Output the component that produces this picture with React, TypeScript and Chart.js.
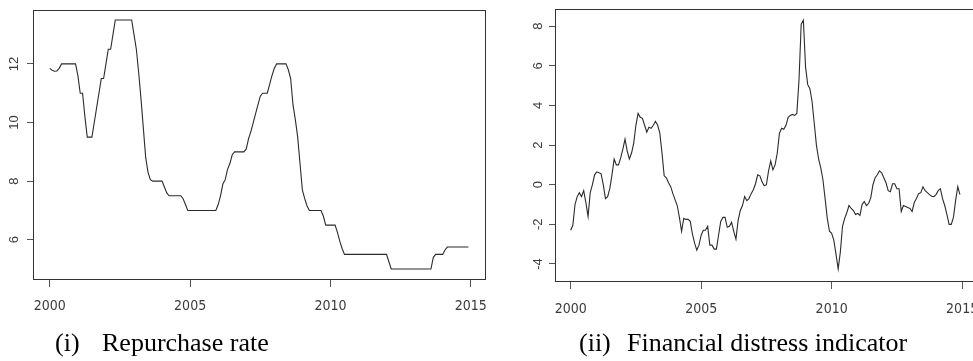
import React, { useEffect, useRef } from "react";
import { Chart, registerables } from "chart.js";

Chart.register(...registerables);

// ---- data (monthly, Jan 2000 .. Dec 2014) ----
const START_YEAR = 2000;

const repoRate: number[] = [
  11.85, 11.78, 11.75, 11.76, 11.85, 12, 12, 12, 12, 12, 12, 12,
  11.6, 11.0, 11.0, 10.2, 9.5, 9.5, 9.5, 10.0, 10.5, 11.0, 11.5, 11.5,
  12.0, 12.5, 12.5, 13.0, 13.5, 13.5, 13.5, 13.5, 13.5, 13.5, 13.5, 13.5,
  13.0, 12.5, 11.7, 10.8, 9.8, 8.8, 8.3, 8.05, 8.0, 8.0, 8.0, 8.0,
  8.0, 7.8, 7.6, 7.5, 7.5, 7.5, 7.5, 7.5, 7.5, 7.4, 7.2, 7.0,
  7, 7, 7, 7, 7, 7, 7, 7, 7, 7, 7, 7,
  7.2, 7.5, 7.9, 8.05, 8.4, 8.6, 8.9, 9.0, 9.0, 9.0, 9.0, 9.0,
  9.1, 9.45, 9.7, 10.0, 10.3, 10.6, 10.9, 11.0, 11.0, 11.0, 11.3, 11.6,
  11.85, 12, 12, 12, 12, 12, 11.8, 11.5, 10.6, 10.1, 9.5, 8.6,
  7.7, 7.4, 7.15, 7.0, 7.0, 7.0, 7.0, 7.0, 7.0, 6.8, 6.5, 6.5,
  6.5, 6.5, 6.5, 6.25, 5.95, 5.7, 5.5, 5.5, 5.5, 5.5, 5.5, 5.5,
  5.5, 5.5, 5.5, 5.5, 5.5, 5.5, 5.5, 5.5, 5.5, 5.5, 5.5, 5.5,
  5.5, 5.25, 5.0, 5.0, 5.0, 5.0, 5.0, 5.0, 5.0, 5.0, 5.0, 5.0,
  5.0, 5.0, 5.0, 5.0, 5.0, 5.0, 5.0, 5.0, 5.4, 5.5, 5.5, 5.5,
  5.5, 5.65, 5.75, 5.75, 5.75, 5.75, 5.75, 5.75, 5.75, 5.75, 5.75, 5.75,
];

const distress: number[] = [
  -2.3, -2.05, -1.0, -0.6, -0.4, -0.6, -0.3, -0.9, -1.6, -0.4, 0.0, 0.5,
  0.65, 0.6, 0.55, 0.0, -0.7, -0.6, -0.2, 0.5, 1.3, 1.0, 1.0, 1.35,
  1.8, 2.3, 1.7, 1.3, 1.6, 2.1, 3.0, 3.6, 3.4, 3.35, 3.0, 2.65,
  2.9, 2.85, 3.0, 3.2, 3.0, 2.6, 1.6, 0.45, 0.35, 0.1, -0.1, -0.45,
  -0.75, -1.05, -1.65, -2.35, -1.7, -1.75, -1.75, -1.85, -2.5, -2.95, -3.3, -3.05,
  -2.55, -2.3, -2.3, -2.1, -3.05, -3.05, -3.25, -3.25, -2.55, -1.85, -1.65, -1.65,
  -2.15, -2.1, -1.9, -2.35, -2.75, -1.8, -1.3, -1.05, -0.6, -0.8, -0.7, -0.45,
  -0.25, 0.05, 0.5, 0.45, 0.15, -0.05, 0.0, 0.7, 1.2, 0.75, 1.0, 1.6,
  2.6, 2.85, 2.8, 3.0, 3.4, 3.5, 3.55, 3.5, 3.6, 5.3, 8.1, 8.3,
  5.95, 5.05, 4.85, 4.2, 3.1, 2.0, 1.3, 0.85, 0.25, -0.7, -1.7, -2.35,
  -2.45, -2.8, -3.5, -4.25, -3.4, -2.1, -1.7, -1.4, -1.05, -1.2, -1.3, -1.5,
  -1.45, -1.55, -1.0, -0.85, -1.05, -0.95, -0.65, 0.0, 0.35, 0.5, 0.7, 0.6,
  0.35, 0.1, -0.3, -0.35, 0.05, 0.05, -0.2, -0.2, -1.35, -1.05, -1.1, -1.15,
  -1.2, -1.35, -0.9, -0.7, -0.45, -0.4, -0.1, -0.3, -0.4, -0.5, -0.58, -0.6,
  -0.5, -0.3, -0.2, -0.7, -1.05, -1.5, -2.0, -2.0, -1.65, -0.8, -0.1, -0.5,
];

const xTicks = [2000, 2005, 2010, 2015];
const repoTicks = [6, 8, 10, 12];
const distressTicks = [-4, -2, 0, 2, 4, 6, 8];
const xRange = [1999.4, 2015.52];
const repoRange = [4.66, 13.84];
const distressRange = [-4.86, 8.87];

const captionLeft = ["(i)", "Repurchase rate"];
const captionRight = ["(ii)", "Financial distress indicator"];

const boxPlugin = {
  id: "rbox",
  afterDatasetsDraw(chart: any) {
    const { ctx, chartArea: a } = chart;
    ctx.save();
    ctx.strokeStyle = "#333";
    ctx.lineWidth = 1;
    ctx.strokeRect(
      Math.round(a.left) + 0.5,
      Math.round(a.top) + 0.5,
      Math.round(a.right - a.left),
      Math.round(a.bottom - a.top)
    );
    ctx.restore();
  },
};

type PanelProps = {
  values: number[];
  yTicks: number[];
  yRange: number[];
  left: number;
  width: number;
  height: number;
  padTop: number;
  padRight: number;
  yAxisWidth: number;
  xAxisHeight: number;
  xPad: number;
};

const zeroPad = (s: any) => {
  s.paddingLeft = 0;
  s.paddingRight = 0;
  s.paddingTop = 0;
  s.paddingBottom = 0;
};

function Panel(p: PanelProps) {
  const ref = useRef<HTMLCanvasElement>(null);
  useEffect(() => {
    if (!ref.current) return;
    const points = p.values.map((v, i) => ({ x: START_YEAR + i / 12, y: v }));
    const chart = new Chart(ref.current, {
      type: "line",
      data: {
        datasets: [
          {
            data: points,
            borderColor: "#2b2b2b",
            borderWidth: 1.1,
            pointRadius: 0,
            tension: 0,
            fill: false,
          },
        ],
      },
      options: {
        animation: false,
        responsive: false,
        devicePixelRatio: 1,
        layout: { padding: { top: p.padTop, right: p.padRight, left: 0, bottom: 0 } },
        plugins: { legend: { display: false }, tooltip: { enabled: false }, title: { display: false } },
        scales: {
          x: {
            type: "linear",
            min: xRange[0],
            max: xRange[1],
            afterBuildTicks: (s: any) => {
              s.ticks = xTicks.map((v) => ({ value: v }));
            },
            afterFit: (s: any) => {
              s.height = p.xAxisHeight;
              zeroPad(s);
            },
            border: { display: false },
            grid: {
              drawOnChartArea: false,
              drawTicks: true,
              tickLength: 8,
              tickColor: "#555",
              tickWidth: 1,
            },
            ticks: {
              autoSkip: false,
              maxRotation: 0,
              minRotation: 0,
              padding: p.xPad,
              color: "#3a3a3a",
              font: { family: "'Liberation Sans Narrow', 'DejaVu Sans Condensed', 'Liberation Sans', Arial, sans-serif", size: 14 },
              callback: (v: any) => String(v),
            },
          },
          y: {
            type: "linear",
            min: p.yRange[0],
            max: p.yRange[1],
            afterBuildTicks: (s: any) => {
              s.ticks = p.yTicks.map((v) => ({ value: v }));
            },
            afterFit: (s: any) => {
              s.width = p.yAxisWidth;
              zeroPad(s);
            },
            border: { display: false },
            grid: {
              drawOnChartArea: false,
              drawTicks: true,
              tickLength: 6,
              tickColor: "#555",
              tickWidth: 1,
            },
            ticks: {
              autoSkip: false,
              minRotation: 90,
              maxRotation: 90,
              crossAlign: "center",
              padding: 5,
              color: "#3a3a3a",
              font: { family: "'Liberation Sans', Arial, sans-serif", size: 13 },
              callback: (v: any) => String(v),
            },
          },
        },
      },
      plugins: [boxPlugin],
    } as any);
    return () => chart.destroy();
  }, []);
  return (
    <canvas
      ref={ref}
      width={p.width}
      height={p.height}
      style={{ position: "absolute", left: p.left, top: 0, width: p.width, height: p.height }}
    />
  );
}

const captionStyle: React.CSSProperties = {
  position: "absolute",
  top: 330,
  fontFamily: "'Liberation Serif', 'Times New Roman', serif",
  fontSize: 26,
  lineHeight: "26px",
  color: "#000",
  whiteSpace: "nowrap",
};

export default function App() {
  return (
    <div
      style={{
        position: "absolute",
        left: 0,
        top: 0,
        width: 973,
        height: 361,
        overflow: "hidden",
        background: "#fff",
      }}
    >
      <Panel
        values={repoRate}
        yTicks={repoTicks}
        yRange={repoRange}
        left={0}
        width={490}
        height={330}
        padTop={10}
        padRight={4.7}
        yAxisWidth={33}
        xAxisHeight={51}
        xPad={11}
      />
      <Panel
        values={distress}
        yTicks={distressTicks}
        yRange={distressRange}
        left={490}
        width={490}
        height={330}
        padTop={9}
        padRight={4.3}
        yAxisWidth={65}
        xAxisHeight={49}
        xPad={12}
      />
      <span style={{ ...captionStyle, left: 55 }}>{captionLeft[0]}</span>
      <span style={{ ...captionStyle, left: 102 }}>{captionLeft[1]}</span>
      <span style={{ ...captionStyle, left: 579 }}>{captionRight[0]}</span>
      <span style={{ ...captionStyle, left: 627 }}>{captionRight[1]}</span>
    </div>
  );
}
